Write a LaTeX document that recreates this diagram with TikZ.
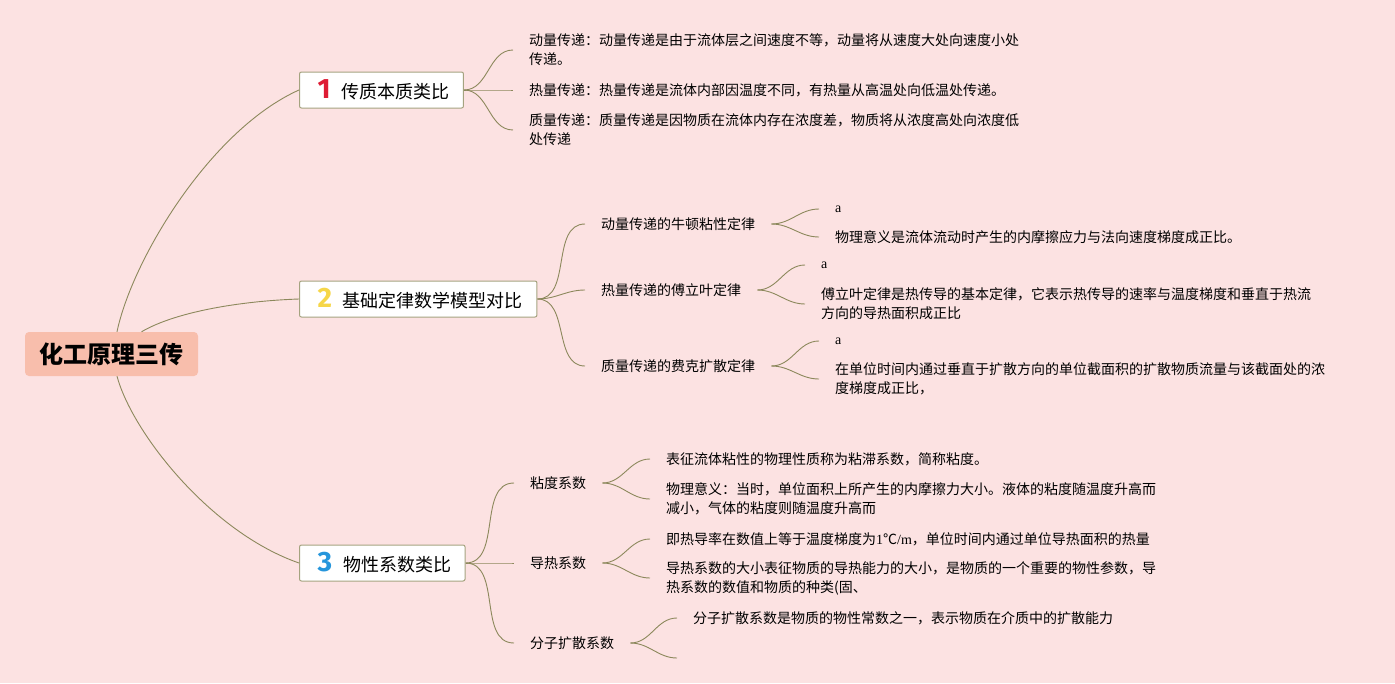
\documentclass[tikz,border=0pt]{standalone}
\usepackage{fontspec}
\setmainfont{Noto Sans CJK SC}
\newfontfamily\latinserif{Liberation Serif}
\newfontfamily\numfont{Fira Sans}
\definecolor{bgpink}{RGB}{252,226,226}
\definecolor{rootfill}{RGB}{248,190,172}
\definecolor{twigcol}{RGB}{140,136,92}
\definecolor{boxcol}{RGB}{165,163,128}
\definecolor{numred}{RGB}{222,28,52}
\definecolor{numyellow}{RGB}{246,214,72}
\definecolor{numblue}{RGB}{38,150,220}
\newcommand\topicnum[2]{\hspace{4pt}{\numfont\bfseries\fontsize{28}{28}\selectfont\color{#1}#2}\hspace{11pt}}
\begin{document}
\begin{tikzpicture}[x=1pt,y=-1pt,
  twig/.style={draw=twigcol,line width=0.9pt},
  leaf/.style={anchor=west,inner xsep=16pt,inner ysep=2pt,align=left,font=\fontsize{14}{19}\selectfont},
  topic/.style={anchor=west,draw=boxcol,fill=white,rounded corners=2pt,line width=1pt,minimum height=36pt,inner xsep=14pt,font=\fontsize{18}{22}\selectfont}]
\path [fill=bgpink] (0,0) rectangle (1395,683);
\node[fill=rootfill,rounded corners=4pt,minimum width=173pt,minimum height=44pt,font=\fontsize{24}{28}\selectfont\bfseries] (root) at (111.5,354) {化工原理三传};

\node[topic] (t1) at (299,90) {\topicnum{numred}{1}传质本质类比};
\node[topic] (t2) at (299,299) {\topicnum{numyellow}{2}基础定律数学模型对比};
\node[topic] (t3) at (299,563) {\topicnum{numblue}{3}物性系数类比};

\draw[twig] ([xshift=5.5pt]root.north) .. controls (132,260) and (210,130) .. (t1.west);
\draw[twig] ([xshift=30pt]root.north) .. controls (175,312) and (240,301) .. (t2.west);
\draw[twig] ([xshift=5.5pt]root.south) .. controls (132,432) and (210,532) .. (t3.west);

\node[leaf] (m1) at (513,50) {动量传递：动量传递是由于流体层之间速度不等，动量将从速度大处向速度小处\\传递。};
\node[leaf] (h1) at (513,90) {热量传递：热量传递是流体内部因温度不同，有热量从高温处向低温处传递。};
\node[leaf] (q1) at (513,130) {质量传递：质量传递是因物质在流体内存在浓度差，物质将从浓度高处向浓度低\\处传递};
\draw[twig] (t1.east) to[out=0,in=180] (m1.west);
\draw[twig] (t1.east) to[out=0,in=180] (h1.west);
\draw[twig] (t1.east) to[out=0,in=180] (q1.west);

\node[leaf] (n2) at (585,224) {动量传递的牛顿粘性定律};
\node[leaf] (f2) at (585,290) {热量传递的傅立叶定律};
\node[leaf] (k2) at (585,366) {质量传递的费克扩散定律};
\draw[twig] (t2.east) to[out=0,in=180] (n2.west);
\draw[twig] (t2.east) to[out=0,in=180] (f2.west);
\draw[twig] (t2.east) to[out=0,in=180] (k2.west);

\node[leaf] (n2a) at (819,209) {\latinserif a};
\node[leaf] (n2b) at (819,237) {物理意义是流体流动时产生的内摩擦应力与法向速度梯度成正比。};
\node[leaf] (f2a) at (805,265) {\latinserif a};
\node[leaf] (f2b) at (805,304) {傅立叶定律是热传导的基本定律，它表示热传导的速率与温度梯度和垂直于热流\\方向的导热面积成正比};
\node[leaf] (k2a) at (819,341) {\latinserif a};
\node[leaf] (k2b) at (819,379) {在单位时间内通过垂直于扩散方向的单位截面积的扩散物质流量与该截面处的浓\\度梯度成正比，};
\draw[twig] (n2.east) to[out=0,in=180] (n2a.west);
\draw[twig] (n2.east) to[out=0,in=180] (n2b.west);
\draw[twig] (f2.east) to[out=0,in=180] (f2a.west);
\draw[twig] (f2.east) to[out=0,in=180] (f2b.west);
\draw[twig] (k2.east) to[out=0,in=180] (k2a.west);
\draw[twig] (k2.east) to[out=0,in=180] (k2b.west);

\node[leaf] (v3) at (514,483) {粘度系数};
\node[leaf] (c3) at (514,563) {导热系数};
\node[leaf] (d3) at (514,643) {分子扩散系数};
\draw[twig] (t3.east) to[out=0,in=180] (v3.west);
\draw[twig] (t3.east) to[out=0,in=180] (c3.west);
\draw[twig] (t3.east) to[out=0,in=180] (d3.west);

\node[leaf] (v3a) at (650,459) {表征流体粘性的物理性质称为粘滞系数，简称粘度。};
\node[leaf] (v3b) at (650,499) {物理意义：当时，单位面积上所产生的内摩擦力大小。液体的粘度随温度升高而\\减小，气体的粘度则随温度升高而};
\node[leaf] (c3a) at (650,539) {即热导率在数值上等于温度梯度为{\latinserif 1}℃{\latinserif /m}，单位时间内通过单位导热面积的热量};
\node[leaf] (c3b) at (650,578) {导热系数的大小表征物质的导热能力的大小，是物质的一个重要的物性参数，导\\热系数的数值和物质的种类(固、};
\node[leaf] (d3a) at (677,618) {分子扩散系数是物质的物性常数之一，表示物质在介质中的扩散能力};
\coordinate (d3b) at (677,658);
\draw[twig] (v3.east) to[out=0,in=180] (v3a.west);
\draw[twig] (v3.east) to[out=0,in=180] (v3b.west);
\draw[twig] (c3.east) to[out=0,in=180] (c3a.west);
\draw[twig] (c3.east) to[out=0,in=180] (c3b.west);
\draw[twig] (d3.east) to[out=0,in=180] (d3a.west);
\draw[twig] (d3.east) to[out=0,in=180] (d3b);
\end{tikzpicture}
\end{document}
